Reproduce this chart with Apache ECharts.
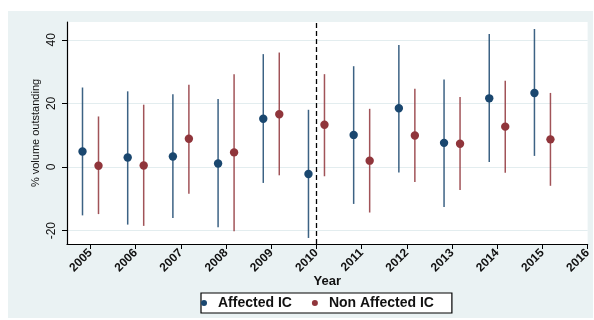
<!DOCTYPE html>
<html><head><meta charset="utf-8">
<script src="https://cdn.jsdelivr.net/npm/echarts@6/dist/echarts.min.js"></script>
<style>html,body{margin:0;padding:0;background:#fff}#c{width:594px;height:320px}</style>
</head><body><div id="c"></div>
<script>
const years = [2005,2006,2007,2008,2009,2010,2011,2012,2013,2014,2015];
const xTicks = [2005,2006,2007,2008,2009,2010,2011,2012,2013,2014,2015,2016];
const yTicks = [-20,0,20,40];
const affMid  = [4.9, 3.0, 3.3, 1.1, 15.2, -2.2, 10.1, 18.5, 7.6, 21.6, 23.3];
const affLow  = [-15.2, -18.1, -16.0, -18.9, -5.0, -22.3, -11.6, -1.7, -12.6, 1.6, 3.5];
const affHigh = [25.0, 23.8, 22.9, 21.4, 35.5, 18.0, 31.7, 38.4, 27.5, 41.8, 43.4];
const nonMid  = [0.4, 0.5, 8.9, 4.6, 16.6, 13.3, 2.0, 9.9, 7.3, 12.7, 8.7];
const nonLow  = [-14.8, -18.5, -8.4, -20.2, -2.6, -2.9, -14.3, -4.7, -7.2, -1.8, -5.9];
const nonHigh = [15.9, 19.6, 25.9, 29.2, 36.0, 29.2, 18.3, 24.6, 22.0, 27.1, 23.3];
const eventYear = 2010;

const FONT = "'Liberation Sans', Arial, sans-serif";
const NAVY = '#1a476f', MAROON = '#90353b';

function rows(lo, mid, hi){ return years.map((y,i)=>[y, lo[i], mid[i], hi[i]]); }
function renderCI(offset){
  return function(params, api){
    const x = api.value(0);
    const pLo = api.coord([x, api.value(1)]);
    const pMid = api.coord([x, api.value(2)]);
    const pHi = api.coord([x, api.value(3)]);
    const color = api.visual('color');
    return {type:'group', children:[
      {type:'line', shape:{x1:pLo[0]+offset, y1:pLo[1], x2:pHi[0]+offset, y2:pHi[1]}, style:{stroke:color, lineWidth:1.5, opacity:0.85}},
      {type:'circle', shape:{cx:pMid[0]+offset, cy:pMid[1], r:4.2}, style:{fill:color}}
    ]};
  };
}

const chart = echarts.init(document.getElementById('c'), null, {renderer:'canvas'});
chart.setOption({
  backgroundColor:'#fff',
  animation:false,
  textStyle:{fontFamily:FONT},
  graphic:[{type:'rect', z:-10, shape:{x:8, y:11, width:585, height:307}, style:{fill:'#eaf2f3'}, silent:true}],
  grid:{left:67, right:5, top:22, bottom:76, show:true, backgroundColor:'#fff', borderWidth:0, containLabel:false},
  legend:{
    left:201, top:293, orient:'horizontal',
    backgroundColor:'#fff', borderColor:'#000', borderWidth:1.2, borderRadius:0,
    padding:[3,18,3,0], itemWidth:18, itemHeight:6, itemGap:20,
    textStyle:{fontFamily:FONT, fontSize:14, fontWeight:'bold', color:'#111'},
    data:[{name:'Affected IC', icon:'circle'},{name:'Non Affected IC', icon:'circle'}]
  },
  xAxis:{
    type:'value', min:2004.48, max:2016,
    name:'Year', nameLocation:'middle', nameGap:31, nameMoveOverlap:false,
    nameTextStyle:{fontFamily:FONT, fontSize:13, fontWeight:'bold', color:'#111'},
    axisLine:{show:true, onZero:false, lineStyle:{color:'#000', width:1.2}},
    axisTick:{show:true, length:5, customValues:xTicks, lineStyle:{color:'#000'}},
    axisLabel:{customValues:xTicks, rotate:45, margin:7, fontSize:12, fontWeight:'bold', color:'#111', fontFamily:FONT, formatter:v=>String(v)},
    splitLine:{show:false}
  },
  yAxis:{
    type:'value', min:-24.2, max:45.6,
    name:'% volume outstanding', nameLocation:'middle', nameGap:26, nameRotate:90, nameMoveOverlap:false,
    nameTextStyle:{fontFamily:FONT, fontSize:11, color:'#111'},
    axisLine:{show:true, onZero:false, lineStyle:{color:'#000', width:1.2}},
    axisTick:{show:true, length:5, customValues:yTicks, lineStyle:{color:'#000'}},
    axisLabel:{customValues:yTicks, rotate:90, margin:9, fontSize:12, color:'#111', fontFamily:FONT, formatter:v=>String(v)},
    splitLine:{show:true, lineStyle:{color:'#e3edef', width:1.2}}
  },
  series:[
    {name:'Affected IC', type:'custom', itemStyle:{color:NAVY}, renderItem:renderCI(-8),
     encode:{x:0, y:[1,2,3]}, data:rows(affLow, affMid, affHigh),
     markLine:{silent:true, symbol:['none','none'], label:{show:false},
       lineStyle:{color:'#000', type:[5,3], width:1.3}, data:[{xAxis:eventYear}]}},
    {name:'Non Affected IC', type:'custom', itemStyle:{color:MAROON}, renderItem:renderCI(8),
     encode:{x:0, y:[1,2,3]}, data:rows(nonLow, nonMid, nonHigh)}
  ]
});
</script></body></html>
